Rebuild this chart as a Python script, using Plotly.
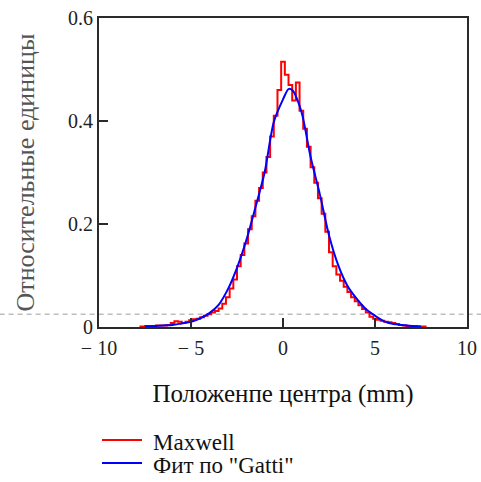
import plotly.graph_objects as go

# Red measured histogram (Maxwell), bin centres in mm
red_x = [-7.8, -7.6, -7.4, -7.2, -7.0, -6.8, -6.6, -6.4, -6.2, -6.0,
         -5.8, -5.6, -5.4, -5.2, -5.0, -4.8, -4.6, -4.4, -4.2, -4.0,
         -3.8, -3.6, -3.4, -3.2, -3.0, -2.8, -2.6, -2.4, -2.2, -2.0,
         -1.8, -1.6, -1.4, -1.2, -1.0, -0.8, -0.6, -0.4, -0.2, 0.0,
         0.2, 0.4, 0.6, 0.8, 1.0, 1.2, 1.4, 1.6, 1.8, 2.0,
         2.2, 2.4, 2.6, 2.8, 3.0, 3.2, 3.4, 3.6, 3.8, 4.0,
         4.2, 4.4, 4.6, 4.8, 5.0, 5.2, 5.4, 5.6, 5.8, 6.0,
         6.2, 6.4, 6.6, 6.8, 7.0, 7.2, 7.4, 7.6, 7.8]
red_y = [0.001, 0.001, 0.002, 0.002, 0.002, 0.003, 0.003, 0.003, 0.004, 0.008,
         0.011, 0.010, 0.008, 0.010, 0.013, 0.015, 0.016, 0.019, 0.022, 0.025,
         0.028, 0.031, 0.036, 0.045, 0.058, 0.075, 0.092, 0.118, 0.140, 0.162,
         0.190, 0.215, 0.245, 0.270, 0.300, 0.330, 0.370, 0.410, 0.460, 0.515,
         0.490, 0.470, 0.440, 0.475, 0.420, 0.385, 0.350, 0.310, 0.280, 0.250,
         0.220, 0.185, 0.145, 0.118, 0.102, 0.090, 0.078, 0.068, 0.058, 0.050,
         0.042, 0.035, 0.028, 0.020, 0.016, 0.014, 0.012, 0.010, 0.009, 0.008,
         0.006, 0.004, 0.003, 0.002, 0.002, 0.002, 0.001, 0.001, 0.001]

# Blue fit ("Gatti")
blue_x = [-7.5, -7.0, -6.5, -6.0, -5.5, -5.0, -4.5, -4.0, -3.5, -3.0,
          -2.5, -2.0, -1.5, -1.0, -0.5, 0.0, 0.3, 0.5, 1.0, 1.5,
          2.0, 2.5, 3.0, 3.5, 4.0, 4.5, 5.0, 5.5, 6.0, 6.5, 7.0, 7.5]
blue_y = [0.001, 0.002, 0.003, 0.004, 0.007, 0.010, 0.017, 0.027, 0.043, 0.073,
          0.115, 0.168, 0.232, 0.300, 0.398, 0.442, 0.462, 0.460, 0.418, 0.330,
          0.258, 0.178, 0.120, 0.080, 0.055, 0.035, 0.022, 0.011, 0.006, 0.004, 0.002, 0.001]

series_names = ["Maxwell", "Фит по \"Gatti\""]
series_colors = ["#ff0000", "#0000ff"]

x_ticks = [-10, -5, 0, 5, 10]
x_tick_text = ["\u2212 10", "\u2212 5", "0", "5", "10"]
y_ticks = [0, 0.2, 0.4, 0.6]
y_tick_text = ["0", "0.2", "0.4", "0.6"]
dash_level = 0.025
y_top = 0.6

SERIF = "Liberation Serif, Times New Roman, serif"
W, H = 481, 482

fig = go.Figure()
fig.add_trace(go.Scatter(x=red_x, y=red_y, mode="lines", name=series_names[0],
                         line=dict(color=series_colors[0], width=2, shape="hvh")))
fig.add_trace(go.Scatter(x=blue_x, y=blue_y, mode="lines", name=series_names[1],
                         line=dict(color=series_colors[1], width=2, shape="spline", smoothing=0.8)))

fig.add_shape(type="line", xref="paper", yref="paper",
              x0=-0.27, x1=1.05, y0=dash_level / y_top, y1=dash_level / y_top,
              line=dict(color="#bdbdbd", width=1.5, dash="5px,4px"), layer="below")

# Manual legend below the plot
legend_rows = [440, 463]
for name, color, row in zip(series_names, series_colors, legend_rows):
    fig.add_shape(type="line", xref="paper", yref="paper",
                  x0=(102 - 99) / 368, x1=(142 - 99) / 368,
                  y0=(327 - row) / 309, y1=(327 - row) / 309,
                  line=dict(color=color, width=2))
    fig.add_annotation(text=name, xref="paper", yref="paper",
                       x=(151 - 99) / 368, y=(327 - row - 2) / 309,
                       xanchor="left", yanchor="middle", showarrow=False,
                       font=dict(family=SERIF, size=23, color="#111111"))

axis_common = dict(showline=True, linecolor="#2a2a2a", linewidth=2, mirror=True,
                   ticks="inside", tickcolor="#2a2a2a", tickwidth=2, ticklen=9,
                   showgrid=False, zeroline=False,
                   tickfont=dict(family=SERIF, size=20, color="#222222"))

fig.update_layout(
    width=W, height=H,
    margin=dict(l=99, r=14, t=18, b=155, autoexpand=False),
    paper_bgcolor="white", plot_bgcolor="white",
    showlegend=False,
    xaxis=dict(range=[-10, 10], tickvals=x_ticks, ticktext=x_tick_text,
               ticklabelstandoff=2,
               title=dict(text="Положенпе центра (mm)", standoff=26,
                          font=dict(family=SERIF, size=25, color="#111111")),
               **axis_common),
    yaxis=dict(range=[0, y_top], tickvals=y_ticks, ticktext=y_tick_text,
               title=dict(text="Относительные единицы", standoff=26,
                          font=dict(family=SERIF, size=26, color="#555555")),
               **axis_common),
)

fig.write_html("out.html")
